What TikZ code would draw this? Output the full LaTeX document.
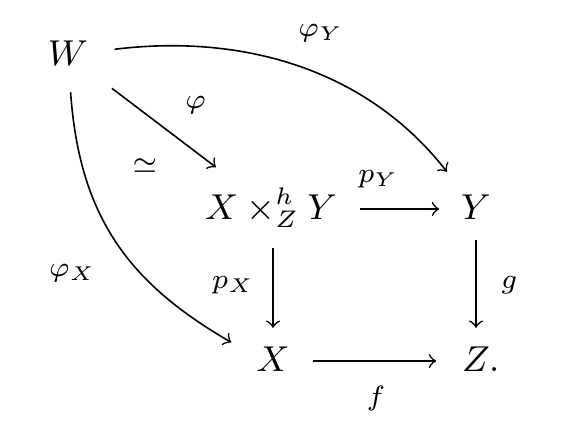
\documentclass[tikz,border=0pt]{standalone}
\usetikzlibrary{arrows,positioning}
\begin{document}
\begin{tikzpicture}[x=0.25pt,y=0.25pt,>=to,
  obj/.style={font=\small,inner sep=0pt,text height=6.3pt,text depth=0.9pt},
  map/.style={->,shorten <=6pt,shorten >=6pt},
  lbl/.style={font=\scriptsize,inner sep=1pt}]
\useasboundingbox (0,0) rectangle (564,-428);
% objects
\node[obj] (W) at (68,-55) {$W$};
\node[obj] (P) at (271,-209) {$X\times^h_Z Y$};
\node[obj] (Y) at (476,-209) {$Y$};
\node[obj] (X) at (273,-361) {$X$};
\node[obj] (Z) at (476,-361) {$Z\rlap{.}$};
% square
\draw[map,shorten <=5.5pt,shorten >=5.3pt] (P) -- node[lbl,pos=.33,above=4pt]{$p_Y$} (Y);
\draw[map,shorten <=6pt,shorten >=4.5pt] (X |- P.south) -- node[lbl,left=3.5pt]{$p_X$} (X);
\draw[map,shorten <=4pt,shorten >=4.5pt] (Y |- Y.south) -- node[lbl,right=5pt]{$g$} (Y |- Z.north);
\draw[map,shorten <=5.5pt,shorten >=6.3pt] (X) -- node[lbl,below=5pt]{$f$} (Z);
% maps from W
\draw[map,shorten <=7.5pt,shorten >=11pt] (W) -- node[lbl,pos=.49,above right=4.4pt]{$\varphi$}
  node[lbl,pos=.55,below left=5.5pt]{$\simeq$} (P);
\draw[map,shorten <=6.5pt,shorten >=7pt] (W) to[out=7,in=128] node[lbl,pos=.56,above=8pt]{$\varphi_Y$} (Y);
\draw[map,shorten <=5.5pt,shorten >=7pt] (W) to[out=-86,in=150,looseness=1.1] node[lbl,pos=.63,left=11pt]{$\varphi_X$} (X.165);
\end{tikzpicture}
\end{document}
